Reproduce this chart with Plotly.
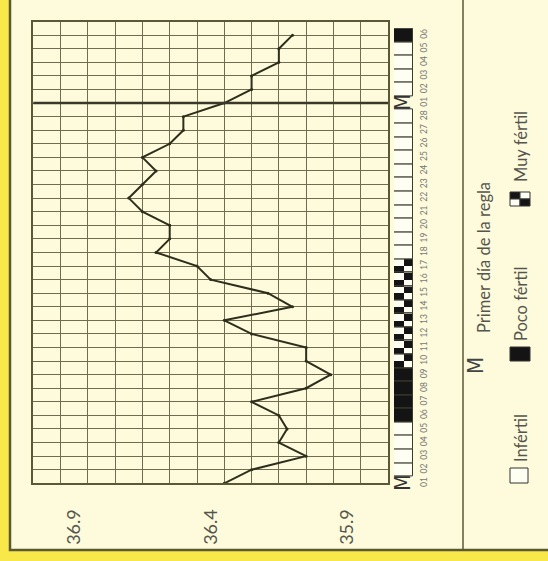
import plotly.graph_objects as go

# ---------------- data ----------------
days = list(range(1, 35))
day_labels = ["01", "02", "03", "04", "05", "06", "07", "08", "09", "10",
              "11", "12", "13", "14", "15", "16", "17", "18", "19", "20",
              "21", "22", "23", "24", "25", "26", "27", "28",
              "01", "02", "03", "04", "05", "06"]
temperatures = [36.35, 36.25, 36.05, 36.15, 36.12, 36.15, 36.25, 36.05, 35.96, 36.05,
                36.05, 36.25, 36.35, 36.10, 36.19, 36.40, 36.45, 36.60, 36.55, 36.55,
                36.65, 36.70, 36.65, 36.60, 36.65, 36.55, 36.50, 36.50,
                36.35, 36.25, 36.25, 36.15, 36.15, 36.10]
# M = primer día de la regla, I = infértil, P = poco fértil, F = muy fértil
fertility = ["M", "I", "I", "I", "I", "P", "P", "P", "P", "F",
             "F", "F", "F", "F", "F", "F", "F", "I", "I", "I",
             "I", "I", "I", "I", "I", "I", "I", "I",
             "M", "I", "I", "I", "I", "P"]
temp_ticks = [36.9, 36.4, 35.9]
temp_tick_labels = ["36.9", "36.4", "35.9"]

# ---------------- styling ----------------
W, H = 548, 561
YELLOW = "#F9E84A"
CREAM = "#FDFBDB"
OLIVE = "#5b5836"
GRID = "#6f6c50"
TEXT = "#55554f"
FONT = "Lato, 'Open Sans', sans-serif"
NARROW = "'Liberation Sans Narrow', 'DejaVu Sans Condensed', sans-serif"

def px_x(p):
    return p / W

def px_y(p):
    return 1 - p / H

# pixel geometry of the grid
g_left, g_right = 33.3, 388.0
day1_py, row_h = 483.3, 13.58

def day_py(v):
    return day1_py - (v - 1) * row_h

fig = go.Figure()

# temperature line
fig.add_trace(go.Scatter(
    x=temperatures, y=days, mode="lines+markers",
    line=dict(color="#2e2e1c", width=2),
    marker=dict(size=3, color="#2e2e1c"),
    xaxis="x", yaxis="y", hoverinfo="skip", showlegend=False))

# checker fill for "muy fértil" days (heatmap with half-cells)
hy, hz = [], []
for d, cat in zip(days, fertility):
    hy.append(d - 0.25)
    hz.append([1, 0] if cat == "F" else [None, None])
    hy.append(d + 0.25)
    hz.append([0, 1] if cat == "F" else [None, None])
fig.add_trace(go.Heatmap(
    x=[0.25, 0.75], y=hy, z=hz, xaxis="x2", yaxis="y2",
    colorscale=[[0, "#fffef2"], [1, "#141414"]], zmin=0, zmax=1,
    showscale=False, hoverinfo="skip"))

# boxes
fill_map = {"I": "#fffef2", "P": "#141414", "F": "rgba(0,0,0,0)", "M": "rgba(0,0,0,0)"}
fig.add_trace(go.Bar(
    y=days, x=[1] * len(days), base=0, orientation="h", width=1,
    marker=dict(color=[fill_map[c] for c in fertility],
                line=dict(color="#3a3a30", width=[0 if c == "M" else 1 for c in fertility])),
    xaxis="x2", yaxis="y2", hoverinfo="skip", showlegend=False))

# M markers in box column
for d, cat in zip(days, fertility):
    if cat == "M":
        fig.add_annotation(x=0.5, y=d, xref="x2", yref="y2", text="M", showarrow=False,
                           textangle=-90, font=dict(size=21, color="#333", family=NARROW))

# period start line
period_days = [d for d, c in zip(days, fertility) if c == "M"]
fig.add_shape(type="line", xref="x domain", yref="y", x0=0, x1=1,
              y0=period_days[1], y1=period_days[1], line=dict(color="#3a3828", width=2.5))

# panel and divider
fig.add_shape(type="rect", xref="paper", yref="paper", x0=px_x(10), x1=1.02,
              y0=px_y(550), y1=1.02, fillcolor=CREAM, line=dict(color=OLIVE, width=2.5),
              layer="below")
fig.add_shape(type="line", xref="paper", yref="paper", x0=px_x(463), x1=px_x(463),
              y0=px_y(550), y1=1.0, line=dict(color=OLIVE, width=1.5))

# legend
def legend_text(text, cx, cy, size=16, family=FONT, color=TEXT):
    fig.add_annotation(x=px_x(cx), y=px_y(cy), xref="paper", yref="paper", text=text,
                       showarrow=False, textangle=-90, xanchor="center", yanchor="middle",
                       font=dict(size=size, color=color, family=family))

legend_text("M", 475, 366, size=22, family=NARROW, color="#444")
legend_text("Primer día de la regla", 484, 258, size=16.5)
legend_text("Infértil", 521, 438, size=16.5)
legend_text("Poco fértil", 521, 304, size=16.5)
legend_text("Muy fértil", 521, 147, size=16.5)

def rect(x0, x1, y0, y1, fill):
    fig.add_shape(type="rect", xref="paper", yref="paper", x0=px_x(x0), x1=px_x(x1),
                  y0=px_y(y1), y1=px_y(y0), fillcolor=fill, line=dict(color="#333", width=1))

rect(510, 528, 468, 483, "#fffef2")
rect(510, 530, 347, 361, "#141414")
rect(510, 520, 192, 199, "#141414")
rect(520, 530, 192, 199, "#fffef2")
rect(510, 520, 199, 206, "#fffef2")
rect(520, 530, 199, 206, "#141414")

fig.update_layout(
    width=W, height=H, autosize=False,
    margin=dict(l=0, r=0, t=0, b=0),
    paper_bgcolor=YELLOW, plot_bgcolor=CREAM,
    showlegend=False, bargap=0,
    xaxis=dict(domain=[px_x(g_left), px_x(g_right)], range=[37.05, 35.75],
               tickvals=temp_ticks, ticktext=temp_tick_labels, tickangle=-90,
               tickfont=dict(size=18, color=TEXT, family=FONT),
               ticks="", ticklabelstandoff=17,
               showgrid=False, zeroline=False,
               showline=True, mirror=True, linecolor=OLIVE, linewidth=1.5,
               minor=dict(tick0=35.75, dtick=0.1, showgrid=True, gridcolor=GRID, gridwidth=1),
               anchor="y"),
    yaxis=dict(domain=[px_y(day_py(1)), px_y(day_py(35))], range=[1, 35],
               tick0=1, dtick=1, showgrid=True, gridcolor=GRID, gridwidth=1,
               showticklabels=False, ticks="", zeroline=False,
               showline=True, mirror=True, linecolor=OLIVE, linewidth=1.5,
               anchor="x"),
    xaxis2=dict(domain=[px_x(394), px_x(413)], range=[0, 1], visible=False, anchor="y2"),
    yaxis2=dict(domain=[px_y(day_py(0.5)), px_y(day_py(34.5))], range=[0.5, 34.5],
                anchor="x2", side="right", tickvals=days, ticktext=day_labels,
                tickangle=-90, tickfont=dict(size=8.5, color="#777", family=FONT),
                ticks="", ticklabelstandoff=4,
                showgrid=False, zeroline=False, showline=False),
)

fig.write_html("out.html", config={"displayModeBar": False},
               post_script="document.body.style.margin='0';document.body.style.overflow='hidden';")
